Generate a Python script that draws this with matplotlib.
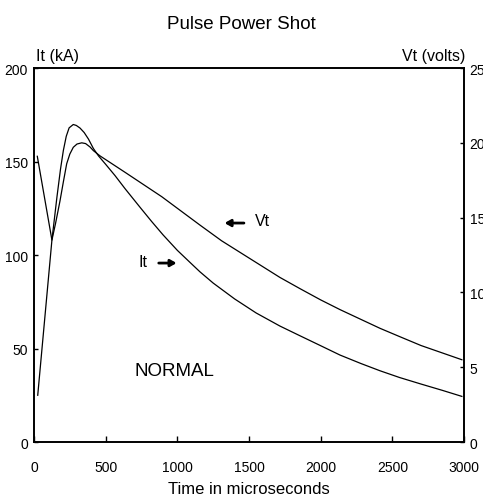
"""Pulse power shot: current and voltage against time."""
import matplotlib
matplotlib.use("Agg")
import matplotlib.pyplot as plt

plt.rcParams["font.family"] = ["Liberation Sans", "DejaVu Sans"]

# current It (kA)
it_time = [26, 125, 160, 185, 205, 225, 245, 274, 295, 321, 350, 380, 414, 450, 500,
           565, 635, 740, 820, 900, 1000, 1089, 1158, 1250, 1400, 1550, 1716, 1856,
           2000, 2135, 2280, 2414, 2550, 2700, 2850, 2985]
it_ka = [25, 108, 131, 146, 156, 163.5, 168, 169.8, 169.3, 167.9, 165.5, 162, 157, 153, 148.5,
         142.5, 135.5, 125.5, 118, 110.8, 102.5, 96, 91, 85, 76.5, 69, 62, 56.8,
         51.5, 46.5, 42, 38.1, 34.5, 31, 27.6, 24.4]

# voltage Vt (volts)
vt_time = [23, 125, 150, 181, 205, 228, 250, 274, 300, 333, 360, 391, 414, 460, 635,
           891, 1158, 1309, 1500, 1716, 1856, 2000, 2135, 2280, 2414, 2550, 2700, 2850, 2985]
vt_volts = [19.1, 13.5, 14.6, 16.1, 17.4, 18.6, 19.25, 19.7, 19.92, 20.0, 19.95, 19.72, 19.48,
            19.13, 18.03, 16.4, 14.5, 13.45, 12.3, 11.0, 10.25, 9.5, 8.85, 8.2, 7.6, 7.05,
            6.45, 5.95, 5.5]

x_ticks = [0, 500, 1000, 1500, 2000, 2500, 3000]
it_ticks = [0, 50, 100, 150, 200]
vt_ticks = [0, 5, 10, 15, 20, 25]

fig = plt.figure(figsize=(4.83, 5.02), dpi=100)
ax = fig.add_axes([0.0704, 0.1175, 0.8903, 0.745])
ax2 = ax.twinx()

ax.plot(it_time, it_ka, color="black", linewidth=0.9)
ax2.plot(vt_time, vt_volts, color="black", linewidth=0.9)

ax.set_xlim(0, 3000)
ax.set_ylim(0, 200)
ax2.set_ylim(0, 25)
ax.set_xticks(x_ticks)
ax.set_yticks(it_ticks)
ax2.set_yticks(vt_ticks)

ax.tick_params(axis="x", direction="in", length=4.5, width=1, pad=13, labelsize=10)
ax.tick_params(axis="y", direction="in", length=3, width=1, pad=4.5, labelsize=10)
ax2.tick_params(axis="y", direction="in", length=3, width=1, pad=4, labelsize=10)
for a in (ax, ax2):
    for sp in a.spines.values():
        sp.set_linewidth(1.2)

ax.set_xlabel("Time in microseconds", fontsize=12, labelpad=5)
fig.text(0.5, 0.952, "Pulse Power Shot", ha="center", va="center", fontsize=13.5)
fig.text(0.0745, 0.879, "It (kA)", ha="left", va="baseline", fontsize=11.5)
fig.text(0.963, 0.879, "Vt (volts)", ha="right", va="baseline", fontsize=11.5)

arrow = dict(arrowstyle="-|>,head_length=0.35,head_width=0.2", color="black", lw=2)
ax.annotate("", xy=(1014, 95.7), xytext=(851, 95.7), arrowprops=arrow)
ax.text(757, 96.8, "It", ha="center", va="center", fontsize=11.5)
ax.annotate("", xy=(1310, 117.1), xytext=(1484, 117.1), arrowprops=arrow)
ax.text(1591, 118.2, "Vt", ha="center", va="center", fontsize=11.5)
ax.text(977, 38.1, "NORMAL", ha="center", va="center", fontsize=13.5)

plt.savefig("out.png", dpi=100)
